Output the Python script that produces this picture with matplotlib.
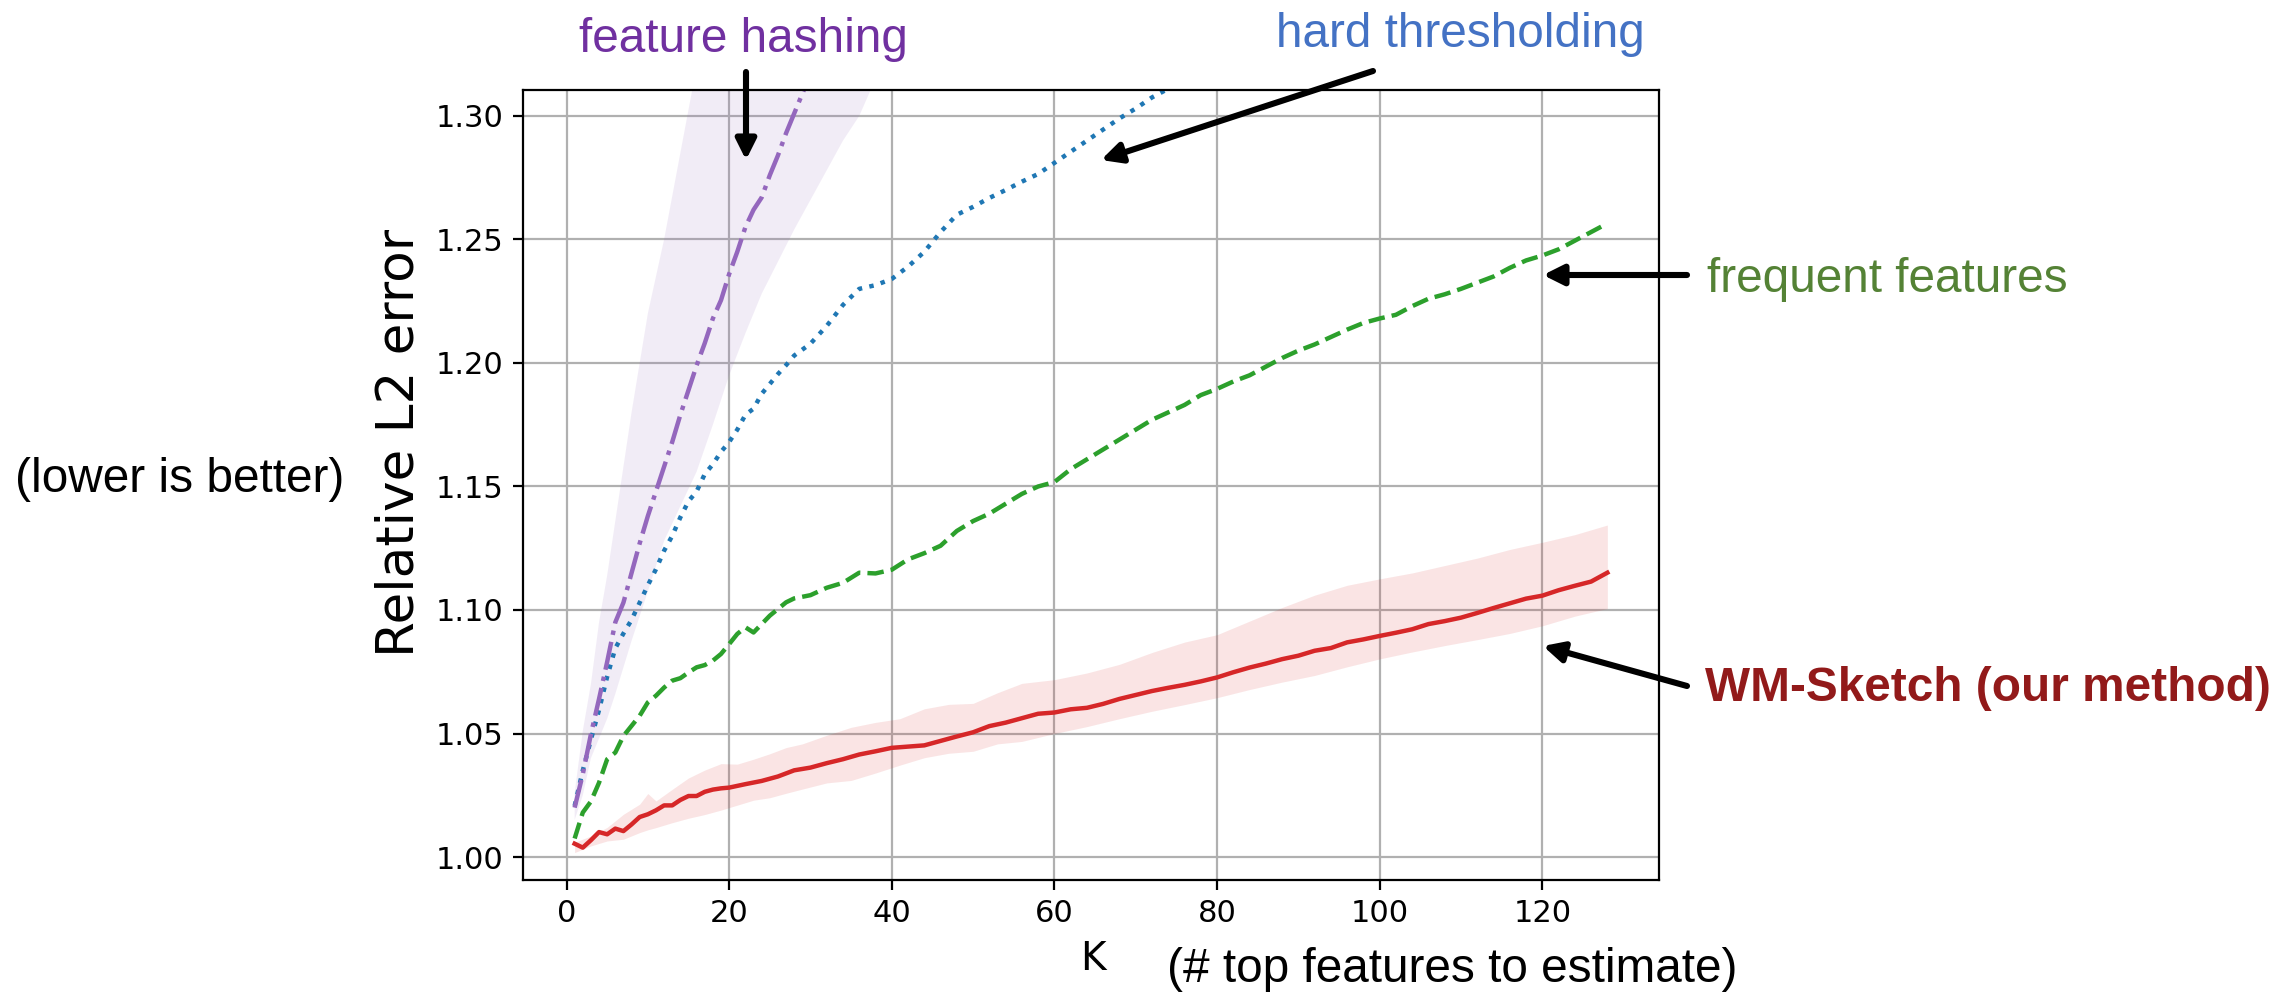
import numpy as np
import matplotlib
matplotlib.use("Agg")
import matplotlib.pyplot as plt

# WM-Sketch (our method), red solid
k_wm = [1, 2, 3, 4, 5, 6, 7, 8, 9, 10, 11, 12, 13, 14, 15, 16, 17, 18, 19, 20,
        22, 24, 26, 28, 30, 32, 34, 36, 38, 40, 42, 44, 46, 48, 50, 52, 54, 56, 58, 60,
        62, 64, 66, 68, 70, 72, 74, 76, 78, 80, 82, 84, 86, 88, 90, 92, 94, 96, 98, 100,
        102, 104, 106, 108, 110, 112, 114, 116, 118, 120, 122, 124, 126, 128]
err_wm = [1.0054, 1.0038, 1.0068, 1.0101, 1.0092, 1.0115, 1.0105, 1.0132, 1.0162, 1.0173,
          1.0189, 1.0209, 1.0209, 1.0231, 1.0247, 1.0247, 1.0264, 1.0273, 1.0278, 1.0281,
          1.0295, 1.0308, 1.0326, 1.0351, 1.0362, 1.0380, 1.0396, 1.0415, 1.0428, 1.0442,
          1.0447, 1.0452, 1.0470, 1.0488, 1.0505, 1.0530, 1.0544, 1.0562, 1.0580, 1.0585,
          1.0598, 1.0604, 1.0620, 1.0640, 1.0656, 1.0672, 1.0685, 1.0697, 1.0711, 1.0727,
          1.0748, 1.0767, 1.0783, 1.0801, 1.0815, 1.0835, 1.0846, 1.0869, 1.0881, 1.0895,
          1.0908, 1.0922, 1.0943, 1.0955, 1.0969, 1.0988, 1.1008, 1.1027, 1.1046, 1.1058,
          1.1080, 1.1098, 1.1115, 1.1151]

# band around WM-Sketch
k_wm_band = [1, 3, 5, 7, 9, 10, 11, 13, 15, 17, 19, 21, 23, 25, 27, 29, 32, 35, 38, 41,
             44, 47, 50, 53, 56, 60, 64, 68, 72, 76, 80, 84, 88, 92, 96, 100, 104, 108,
             112, 116, 120, 124, 128]
wm_upper = [1.0060, 1.0085, 1.0120, 1.0173, 1.0214, 1.0257, 1.0227, 1.0274, 1.0320, 1.0352,
            1.0378, 1.0376, 1.0396, 1.0418, 1.0443, 1.0458, 1.0493, 1.0525, 1.0545, 1.0560,
            1.0600, 1.0618, 1.0622, 1.0665, 1.0703, 1.0718, 1.0745, 1.0780, 1.0828, 1.0870,
            1.0900, 1.0955, 1.1010, 1.1060, 1.1100, 1.1126, 1.1150, 1.1180, 1.1210, 1.1245,
            1.1274, 1.1305, 1.1344]
wm_lower = [1.0018, 1.0045, 1.0065, 1.0072, 1.0099, 1.0110, 1.0119, 1.0139, 1.0157, 1.0172,
            1.0190, 1.0210, 1.0230, 1.0240, 1.0258, 1.0275, 1.0300, 1.0310, 1.0340, 1.0372,
            1.0402, 1.0420, 1.0428, 1.0458, 1.0468, 1.0500, 1.0528, 1.0560, 1.0590, 1.0617,
            1.0645, 1.0678, 1.0708, 1.0735, 1.0770, 1.0802, 1.0830, 1.0856, 1.0880, 1.0905,
            1.0936, 1.0975, 1.1006]

# frequent features, green dashed
k_ff = [1, 2, 3, 4, 5, 6, 7, 8, 9, 10, 11, 12, 13, 14, 15, 16, 17, 18, 19, 20,
        21, 22, 23, 24, 25, 26, 27, 28, 30, 32, 34, 36, 38, 40, 42, 44, 46, 48, 50, 52,
        54, 56, 58, 60, 62, 64, 66, 68, 70, 72, 74, 76, 78, 80, 82, 84, 86, 88, 90, 92,
        94, 96, 98, 100, 102, 104, 106, 108, 110, 112, 114, 116, 118, 120, 122, 124, 126, 128]
err_ff = [1.0075, 1.0180, 1.0225, 1.0301, 1.0396, 1.0423, 1.0490, 1.0531, 1.0572, 1.0626,
          1.0653, 1.0686, 1.0714, 1.0724, 1.0747, 1.0768, 1.0777, 1.0795, 1.0822, 1.0862,
          1.0903, 1.0930, 1.0909, 1.0943, 1.0977, 1.1004, 1.1031, 1.1047, 1.1060, 1.1090,
          1.1110, 1.1151, 1.1148, 1.1163, 1.1205, 1.1230, 1.1260, 1.1320, 1.1360, 1.1390,
          1.1430, 1.1470, 1.1500, 1.1518, 1.1570, 1.1610, 1.1650, 1.1690, 1.1730, 1.1770,
          1.1800, 1.1830, 1.1870, 1.1895, 1.1925, 1.1950, 1.1985, 1.2020, 1.2050, 1.2075,
          1.2105, 1.2135, 1.2162, 1.2180, 1.2195, 1.2230, 1.2260, 1.2278, 1.2300, 1.2325,
          1.2350, 1.2385, 1.2415, 1.2435, 1.2460, 1.2495, 1.2530, 1.2565]

# hard thresholding, blue dotted
k_ht = [1, 2, 3, 4, 5, 6, 7, 8, 9, 10, 11, 12, 13, 14, 15, 16, 17, 18, 19, 20,
        21, 22, 23, 24, 25, 26, 27, 28, 30, 32, 34, 36, 38, 40, 42, 44, 46, 48, 50, 52,
        54, 56, 58, 60, 62, 64, 66, 68, 70, 72, 74, 76]
err_ht = [1.0207, 1.0350, 1.0475, 1.0595, 1.0730, 1.0845, 1.0905, 1.0960, 1.1030, 1.1100,
          1.1165, 1.1240, 1.1300, 1.1375, 1.1440, 1.1480, 1.1550, 1.1590, 1.1640, 1.1680,
          1.1730, 1.1790, 1.1815, 1.1875, 1.1915, 1.1955, 1.1991, 1.2030, 1.2078, 1.2150,
          1.2235, 1.2300, 1.2315, 1.2340, 1.2390, 1.2450, 1.2530, 1.2600, 1.2632, 1.2668,
          1.2700, 1.2734, 1.2765, 1.2810, 1.2855, 1.2900, 1.2945, 1.2990, 1.3030, 1.3075,
          1.3110, 1.3150]

# feature hashing, purple dash-dot
k_fh = [1, 2, 3, 4, 5, 6, 7, 8, 9, 10, 11, 12, 13, 14, 15, 16, 17, 18, 19, 20,
        21, 22, 23, 24, 25, 26, 27, 28, 29, 30]
err_fh = [1.0200, 1.0335, 1.0497, 1.0640, 1.0790, 1.0950, 1.1030, 1.1150, 1.1270, 1.1380,
          1.1480, 1.1580, 1.1680, 1.1790, 1.1890, 1.1990, 1.2080, 1.2180, 1.2254, 1.2360,
          1.2450, 1.2550, 1.2620, 1.2670, 1.2760, 1.2840, 1.2930, 1.3010, 1.3090, 1.3170]

k_fh_band = [1, 2, 3, 4, 5, 6, 8, 10, 12, 14, 16, 18, 20, 22, 24, 26, 28, 30, 32, 34, 36, 38]
fh_upper = [1.026, 1.051, 1.070, 1.095, 1.114, 1.136, 1.180, 1.220, 1.250, 1.285, 1.320,
            1.355, 1.390, 1.420, 1.450, 1.480, 1.510, 1.540, 1.570, 1.600, 1.630, 1.660]
fh_lower = [1.015, 1.025, 1.040, 1.048, 1.056, 1.066, 1.0875, 1.1075, 1.128, 1.142, 1.156,
            1.175, 1.195, 1.212, 1.228, 1.241, 1.254, 1.266, 1.278, 1.290, 1.300, 1.315]

W, H = 2278, 994


def px(x, y):
    # pixel position (from top-left) -> figure fraction
    return (x / W, 1 - y / H)


fig = plt.figure(figsize=(W / 200, H / 200), dpi=200)
ax = fig.add_axes([523 / W, 1 - 880 / H, (1659 - 523) / W, (880 - 90) / H])

ax.fill_between(k_fh_band, fh_lower, fh_upper, color="#9467bd", alpha=0.12, lw=0)
ax.fill_between(k_wm_band, wm_lower, wm_upper, color="#d62728", alpha=0.12, lw=0)

ax.plot(k_ht, err_ht, ":", color="#1f77b4", lw=1.6)
ax.plot(k_fh, err_fh, "-.", color="#9467bd", lw=1.6)
ax.plot(k_ff, err_ff, "--", color="#2ca02c", lw=1.6)
ax.plot(k_wm, err_wm, "-", color="#d62728", lw=1.6)

ax.set_ylim(0.9907, 1.3105)
ax.set_yticks([1.00, 1.05, 1.10, 1.15, 1.20, 1.25, 1.30])
ax.grid(True)
ax.set_axisbelow(True)
ax.tick_params(labelsize=11)

ax.set_ylabel("Relative L2 error", fontsize=18.6, va="center")
ax.yaxis.set_label_coords((400 - 523) / 1136, (880 - 443) / 790)
ax.set_xlabel("K", fontsize=14, va="center")
ax.xaxis.set_label_coords((1093 - 523) / 1136, (880 - 959) / 790)

note = dict(family="Liberation Sans", fontsize=17.2)
fig.text(*px(743, 52), "feature hashing", color="#7030a0", ha="center", va="baseline", **note)
fig.text(*px(1460, 47), "hard thresholding", color="#4472c4", ha="center", va="baseline", **note)
fig.text(*px(1707, 292), "frequent features", color="#548235", ha="left", va="baseline", **note)
fig.text(*px(1705, 701), "WM-Sketch (our method)", color="#921a1a", ha="left", va="baseline",
         fontweight="bold", **note)
fig.text(*px(15, 492), "(lower is better)", color="black", ha="left", va="baseline", **note)
fig.text(*px(1167, 982), "(# top features to estimate)", color="black", ha="left", va="baseline", **note)

arrows = [((746, 72), (746, 160)),
          ((1373, 71), (1101, 160)),
          ((1687, 275), (1543, 275)),
          ((1687, 686), (1543, 646))]
for tail, tip in arrows:
    ax.annotate("", xy=px(*tip), xytext=px(*tail), xycoords="figure fraction",
                textcoords="figure fraction", annotation_clip=False,
                arrowprops=dict(arrowstyle="-|>", color="black", lw=2.2,
                                mutation_scale=15, shrinkA=0, shrinkB=0))

fig.savefig("out.png", dpi=200)
